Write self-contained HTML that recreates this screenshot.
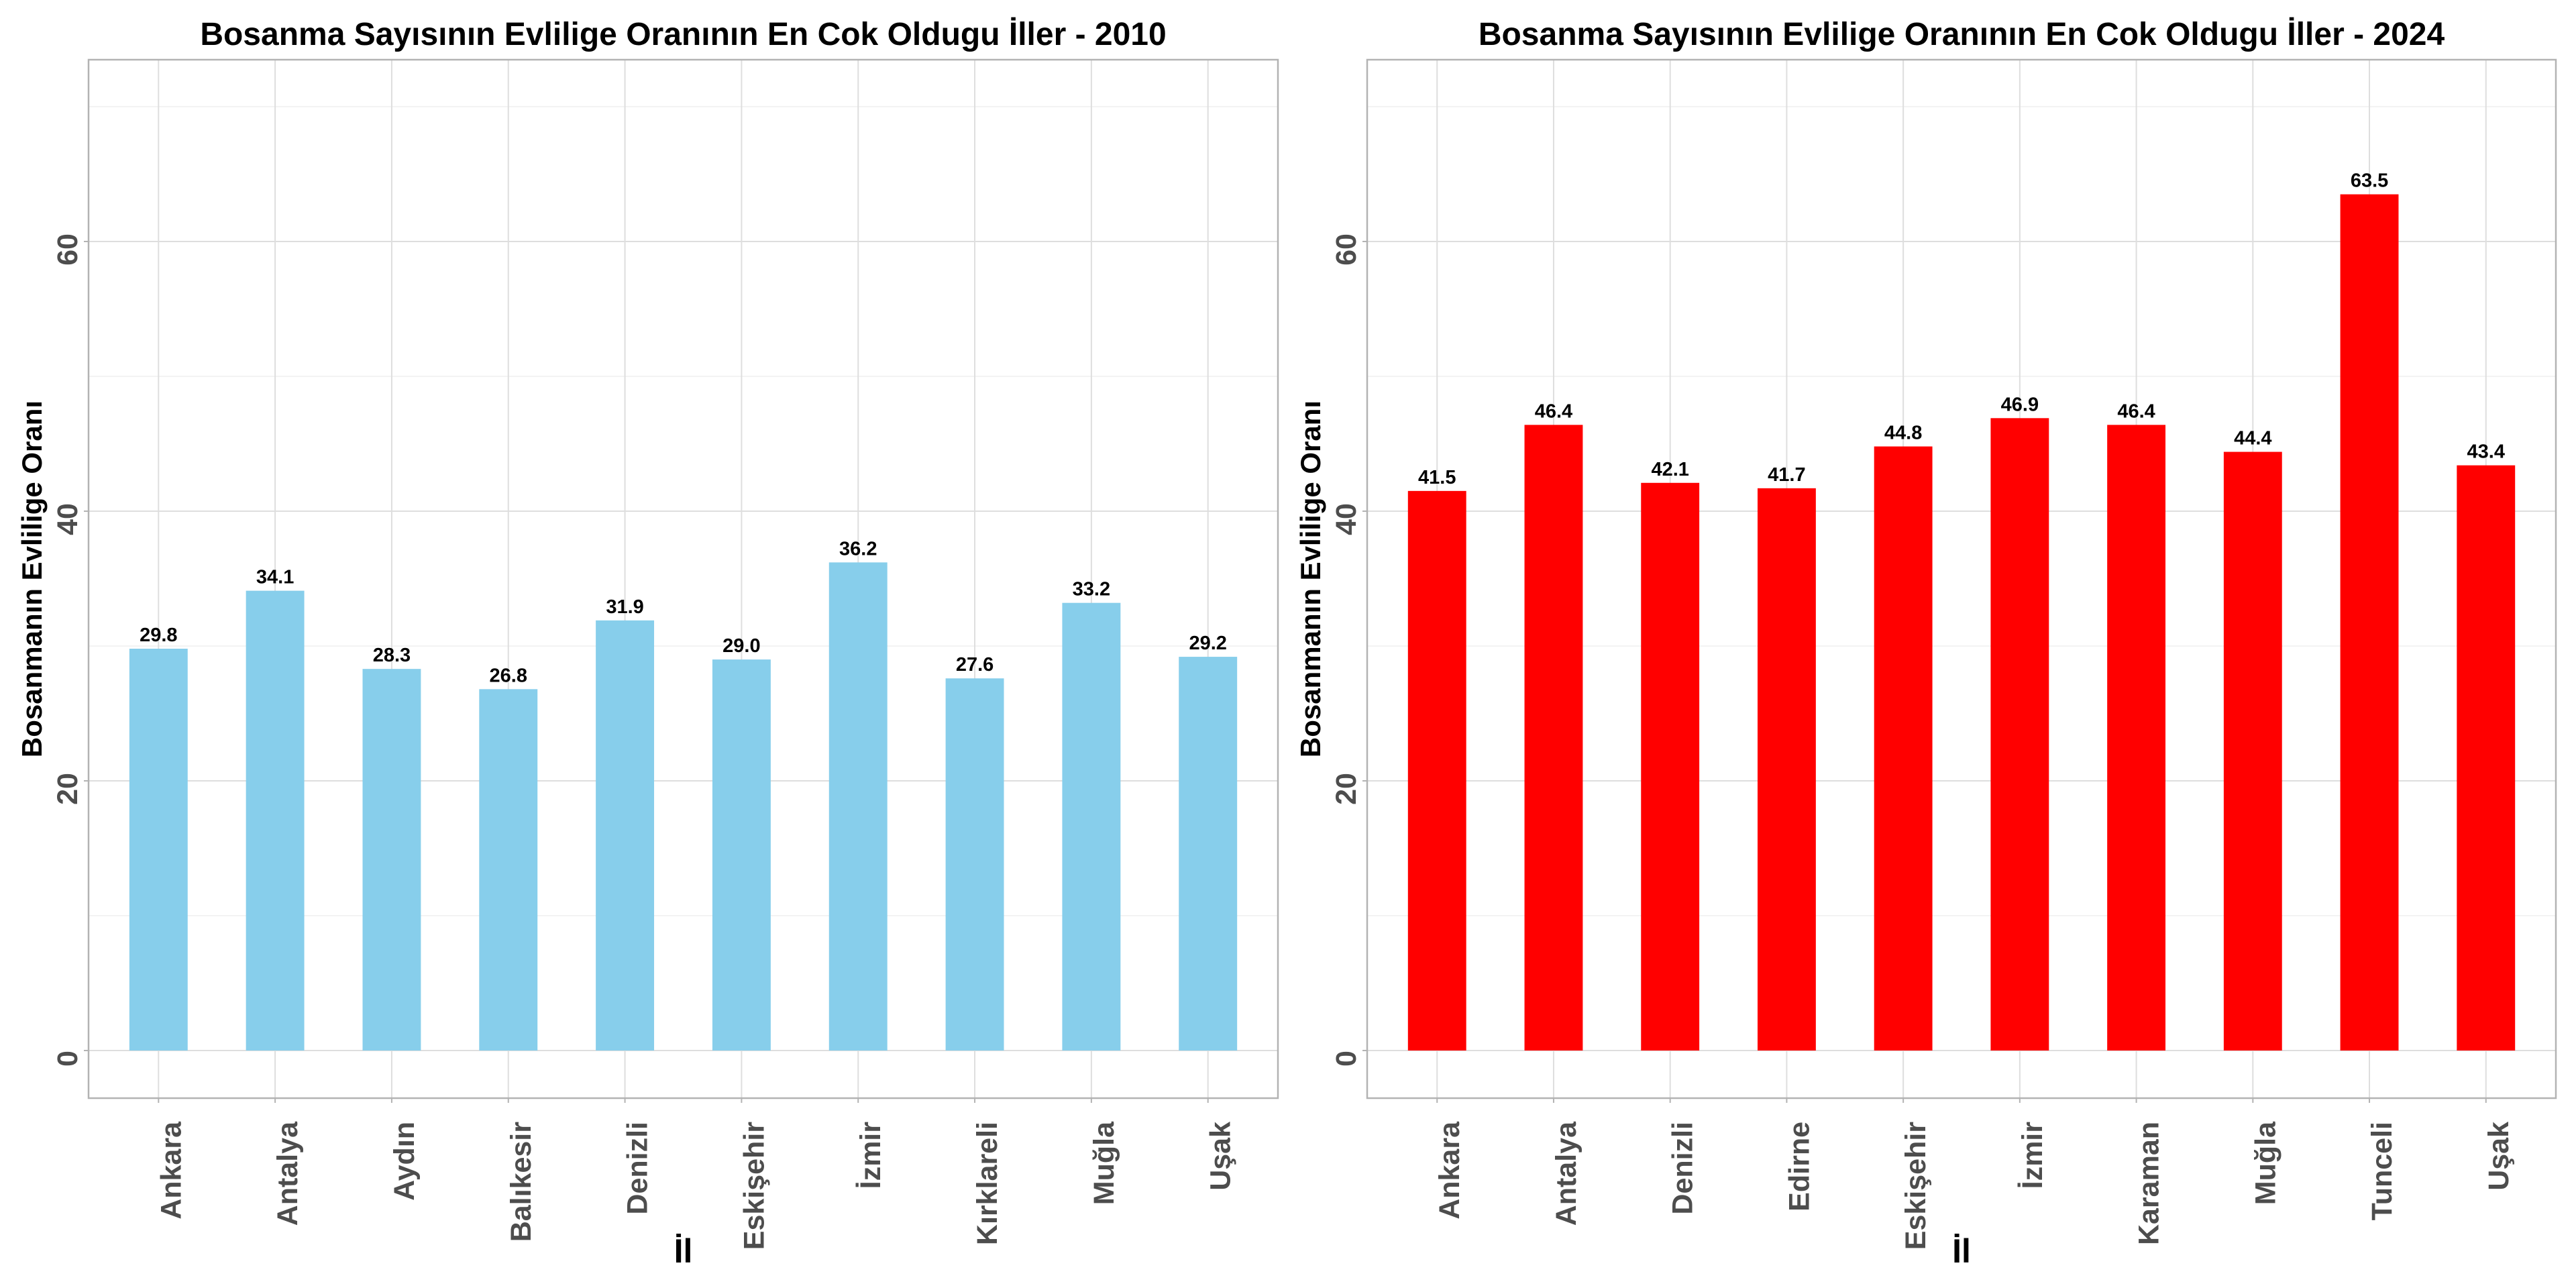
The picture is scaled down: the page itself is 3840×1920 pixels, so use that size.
<!DOCTYPE html>
<html><head><meta charset="utf-8"><style>
html,body{margin:0;padding:0;background:#fff;}
svg{display:block;font-family:"Liberation Sans",Arial,sans-serif;}
</style></head><body>
<svg id="chart" width="3840" height="1920" viewBox="0 0 3840 1920" xmlns="http://www.w3.org/2000/svg"></svg>
<script>
const cats2010 = ["Ankara","Antalya","Aydın","Balıkesir","Denizli","Eskişehir","İzmir","Kırklareli","Muğla","Uşak"];
const vals2010 = [29.8,34.1,28.3,26.8,31.9,29.0,36.2,27.6,33.2,29.2];
const cats2024 = ["Ankara","Antalya","Denizli","Edirne","Eskişehir","İzmir","Karaman","Muğla","Tunceli","Uşak"];
const vals2024 = [41.5,46.4,42.1,41.7,44.8,46.9,46.4,44.4,63.5,43.4];
const yTicks = [0,20,40,60];
const yMinor = [10,30,50,70];
const titles = ["Bosanma Sayısının Evlilige Oranının En Cok Oldugu İller - 2010","Bosanma Sayısının Evlilige Oranının En Cok Oldugu İller - 2024"];

const NS="http://www.w3.org/2000/svg";
const svgEl=document.getElementById('chart');
function mk(tag,attrs,parent){const e=document.createElementNS(NS,tag);for(const k in attrs)e.setAttribute(k,attrs[k]);(parent||svgEl).appendChild(e);return e;}

const plotTop=89, plotBottom=1637, zeroY=1566, unit=20.1;
function yScale(v){return zeroY - v*unit;}

function panel(left,right,cats,vals,color,title,idx){
  const g=mk('g',{});
  
  
  const step=(right-left)/10.2;
  const xScale=i=>left+(0.6+i)*step;
  yMinor.forEach(v=>{const l=mk('line',{x1:left,x2:right,y1:yScale(v),y2:yScale(v),stroke:'#ececec','stroke-width':1.2},g);
    
    });
  yTicks.forEach(v=>{const l=mk('line',{x1:left,x2:right,y1:yScale(v),y2:yScale(v),stroke:'#dedede','stroke-width':2},g);
    
    });
  cats.forEach((c,i)=>{const l=mk('line',{x1:xScale(i),x2:xScale(i),y1:plotTop,y2:plotBottom,stroke:'#dedede','stroke-width':2},g);
    
    });
  vals.forEach((v,i)=>{
    const w=step*0.5;
    const r=mk('rect',{x:xScale(i)-w/2,y:yScale(v),width:w,height:zeroY-yScale(v),fill:color},g);
    
    
    const t=mk('text',{x:xScale(i),y:yScale(v)-11,'text-anchor':'middle','font-size':29,'font-weight':'bold',fill:'#000'},g);
    t.textContent=v.toFixed(1);
    
    
  });
  const b=mk('rect',{x:left,y:plotTop,width:right-left,height:plotBottom-plotTop,fill:'none',stroke:'#b3b3b3','stroke-width':2.5},g);
  
  
  yTicks.forEach(v=>{
    const tk=mk('line',{x1:left-7,x2:left,y1:yScale(v),y2:yScale(v),stroke:'#b3b3b3','stroke-width':2},g);
    
    
    const t=mk('text',{transform:`translate(${left-17},${yScale(v)+12}) rotate(-90)`,'text-anchor':'middle','font-size':43,'font-weight':'bold',fill:'#4d4d4d'},g);
    t.textContent=v;
    
    
  });
  cats.forEach((c,i)=>{
    const tk=mk('line',{x1:xScale(i),x2:xScale(i),y1:plotBottom,y2:plotBottom+7,stroke:'#b3b3b3','stroke-width':2},g);
    
    
    const t=mk('text',{transform:`translate(${xScale(i)+33},1672) rotate(-90)`,'text-anchor':'end','font-size':43,'font-weight':'bold',fill:'#4d4d4d'},g);
    t.textContent=c;
    
    
  });
  const tt=mk('text',{x:(left+right)/2,y:67,'text-anchor':'middle','font-size':48,'font-weight':'bold',fill:'#000'},g);
  tt.textContent=title;
  
  
  const yt=mk('text',{transform:`translate(${left-70},863) rotate(-90)`,'text-anchor':'middle','font-size':42,'font-weight':'bold',fill:'#000'},g);
  yt.textContent='Bosanmanın Evlilige Oranı';
  
  
  const xt=mk('text',{x:(left+right)/2,y:1882,'text-anchor':'middle','font-size':50,'font-weight':'bold',fill:'#000'},g);
  xt.textContent='İl';
  
  
}
panel(132,1905,cats2010,vals2010,'#87CEEB',titles[0],'2010');
panel(2038,3810,cats2024,vals2024,'#FF0000',titles[1],'2024');
</script>
</body></html>
